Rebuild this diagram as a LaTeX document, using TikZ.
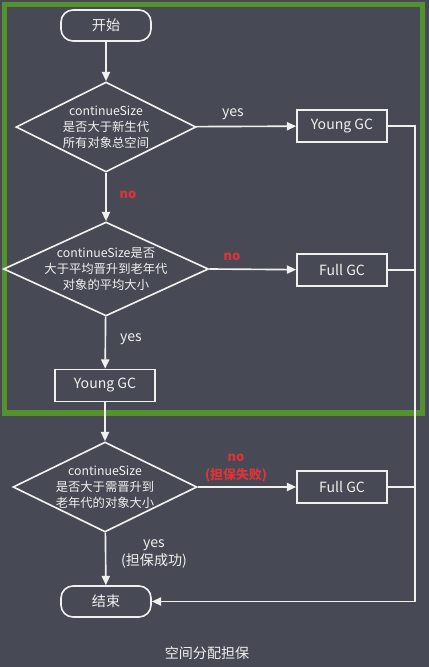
\documentclass[tikz,border=0pt]{standalone}
\usepackage{fontspec}
\setmainfont{Noto Sans CJK SC}
\usetikzlibrary{shapes.geometric,arrows.meta}
\definecolor{bgcol}{RGB}{71,74,84}
\definecolor{framegreen}{RGB}{84,146,46}
\definecolor{nored}{RGB}{222,52,56}
\definecolor{linecol}{RGB}{240,240,240}
\tikzset{
  base/.style={draw=linecol, text=linecol, line width=1.4pt, font=\fontsize{12}{15}\selectfont},
  terminal/.style={base, rounded corners=0.36cm, minimum width=2.7cm, minimum height=0.93cm},
  gcbox/.style={base, minimum width=2.7cm, minimum height=0.96cm},
  decision/.style={base, diamond, align=center, inner xsep=-25pt, inner ysep=-12pt, font=\fontsize{10.5}{13.6}\selectfont},
  lbl/.style={text=linecol, align=center, font=\fontsize{12}{15}\selectfont},
  nolbl/.style={text=nored, align=center, font=\bfseries\fontsize{11}{15}\selectfont},
  arr/.style={draw=linecol, line width=1.4pt, -{Triangle[length=8pt,width=7pt]}},
  conn/.style={draw=linecol, line width=1.4pt}
}

\begin{document}
\begin{tikzpicture}[x=0.03cm, y=-0.03cm]
  \fill[bgcol] (0,0) rectangle (429,667);
  \draw[framegreen, line width=4.5pt] (4.7,4.7) rectangle (422.5,413);

  \node[terminal] (start) at (106,25.5) {开始};
  \node[decision, minimum width=5.4cm, minimum height=2.7cm] (d1) at (106,127)
    {continueSize\\是否大于新生代\\所有对象总空间};
  \node[decision, minimum width=6.15cm, minimum height=2.82cm] (d2) at (106,269)
    {continueSize是否\\大于平均晋升到老年代\\对象的平均大小};
  \node[gcbox, minimum width=3cm] (yg2) at (105,385.5) {Young GC};
  \node[decision, minimum width=5.52cm, minimum height=2.7cm] (d3) at (105,487)
    {continueSize\\是否大于需晋升到\\老年代的对象大小};
  \node[terminal] (end) at (106,601.5) {结束};
  \node[gcbox] (yg1) at (342,126) {Young GC};
  \node[gcbox] (fg1) at (342,270) {Full GC};
  \node[gcbox] (fg3) at (342,487) {Full GC};
  \coordinate (r1) at (415,126);
  \coordinate (r3) at (415,601.5);

  \node[lbl] (yes1) at (233,114) {yes};
  \node[nolbl] (no1) at (128,195) {no};
  \node[nolbl] (no2) at (232,257) {no};
  \node[lbl] (yes2) at (131,339) {yes};
  \node[nolbl] (no3) at (236,468) {no\\(担保失败)};
  \node[lbl] (yes3) at (154,554) {yes\\(担保成功)};
  \node[lbl] (title) at (207,653) {空间分配担保};

  \draw[arr] (start) -- (d1);
  \draw[arr] (d1) -- (d2);
  \draw[arr] (d2) -- (yg2);
  \draw[arr] (yg2) -- (d3);
  \draw[arr] (d3) -- (end);
  \draw[arr] (d1) -- (yg1);
  \draw[arr] (d2.east) -- (fg1);
  \draw[arr] (d3.east) -- (fg3);
  \draw[arr] (yg1.east) -- (r1) -- (r3) -- (end.east);
  \draw[conn] (fg1.east) -- (fg1.east -| r1);
  \draw[conn] (fg3.east) -- (fg3.east -| r1);
\end{tikzpicture}
\end{document}
